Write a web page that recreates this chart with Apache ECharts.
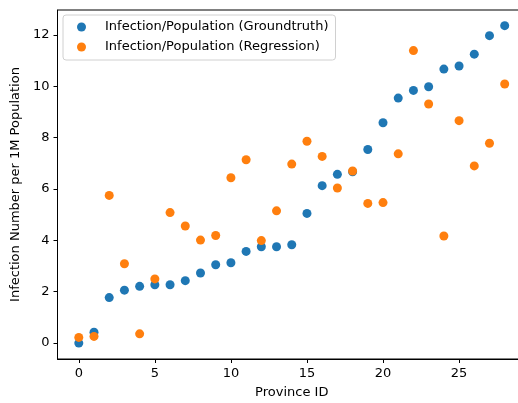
<!DOCTYPE html>
<html><head><meta charset="utf-8">
<script src="https://cdn.jsdelivr.net/npm/echarts@6/dist/echarts.min.js"></script>
<style>html,body{margin:0;padding:0;background:#fff}#c{width:518px;height:403px}</style>
</head><body><div id="c"></div>
<script>
const provinceIds = [0,1,2,3,4,5,6,7,8,9,10,11,12,13,14,15,16,17,18,19,20,21,22,23,24,25,26,27,28];
const groundtruth = [0.0,0.42,1.77,2.06,2.21,2.27,2.27,2.43,2.73,3.05,3.13,3.57,3.75,3.75,3.83,5.05,6.13,6.57,6.67,7.54,8.58,9.54,9.84,9.98,10.67,10.79,11.25,11.97,12.36];
const regression = [0.22,0.26,5.75,3.09,0.36,2.50,5.08,4.56,4.01,4.19,6.44,7.14,3.99,5.15,6.97,7.86,7.27,6.04,6.70,5.44,5.47,7.37,11.39,9.31,4.17,8.66,6.90,7.78,10.09];
const xTicks = [0,5,10,15,20,25];
const yTicks = [0,2,4,6,8,10,12];
const seriesNames = ['Infection/Population (Groundtruth)','Infection/Population (Regression)'];

const font = 'DejaVu Sans';
const fs = 13;
const chart = echarts.init(document.getElementById('c'), null, {renderer:'canvas'});
const axisCommon = {
  axisLine:{show:true,onZero:false,lineStyle:{color:'#000',width:1}},
  axisTick:{show:true,inside:false,length:4,lineStyle:{color:'#000',width:1}},
  splitLine:{show:false},
  axisLabel:{color:'#000',fontFamily:font,fontSize:fs},
  nameTextStyle:{color:'#000',fontFamily:font,fontSize:fs},
  nameLocation:'middle'
};
chart.setOption({
  animation:false,
  grid:{left:57.5,top:10,width:468.5,height:349,show:true,borderColor:'#000',borderWidth:1,backgroundColor:'transparent',outerBoundsMode:'none',containLabel:false},
  legend:{
    left:63,top:15,orient:'vertical',
    data:seriesNames,
    icon:'circle',itemWidth:9,itemHeight:9,itemGap:6,
    padding:[5,7,6,14],
    backgroundColor:'rgba(255,255,255,0.8)',borderColor:'#d0d0d0',borderWidth:1,borderRadius:3,
    textStyle:{fontFamily:font,fontSize:fs,color:'#000',lineHeight:14,padding:[0,0,0,14]}
  },
  xAxis:Object.assign({},axisCommon,{
    type:'value',min:-1.4,max:29.4,name:'Province ID',nameGap:27,
    axisTick:Object.assign({},axisCommon.axisTick,{customValues:xTicks}),
    axisLabel:Object.assign({},axisCommon.axisLabel,{customValues:xTicks,margin:8})
  }),
  yAxis:Object.assign({},axisCommon,{
    type:'value',min:-0.62,max:12.97,name:'Infection Number per 1M Population',nameGap:34,
    axisTick:Object.assign({},axisCommon.axisTick,{customValues:yTicks}),
    axisLabel:Object.assign({},axisCommon.axisLabel,{customValues:yTicks,margin:8})
  }),
  series:[
    {name:seriesNames[0],type:'scatter',symbolSize:9,itemStyle:{color:'#1f77b4',opacity:1},
     data:provinceIds.map((x,i)=>[x,groundtruth[i]])},
    {name:seriesNames[1],type:'scatter',symbolSize:9,itemStyle:{color:'#ff7f0e',opacity:1},
     data:provinceIds.map((x,i)=>[x,regression[i]])}
  ]
});
</script></body></html>
